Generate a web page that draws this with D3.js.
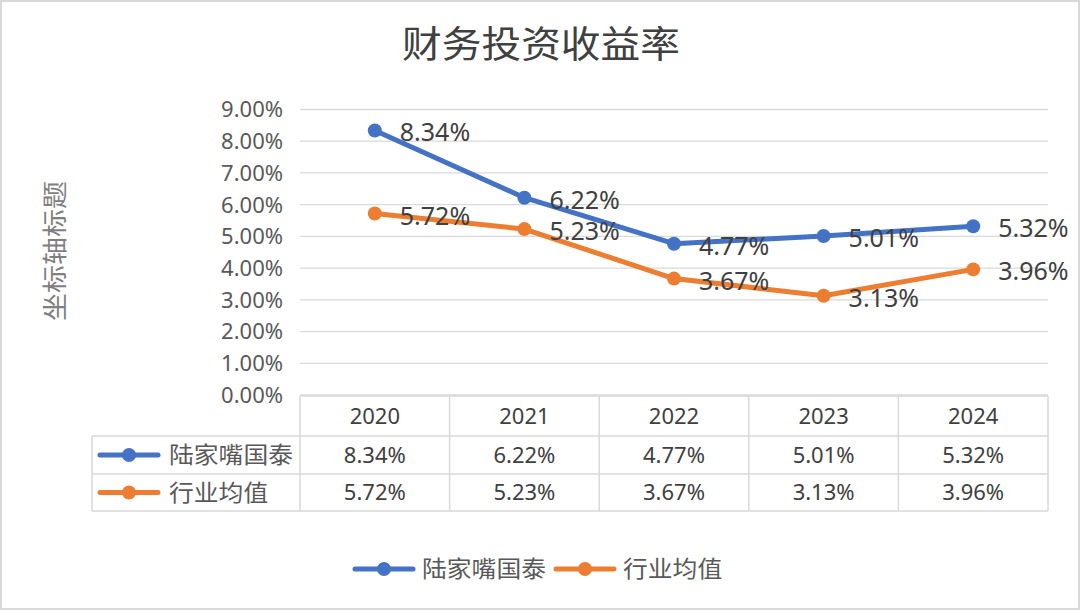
<!DOCTYPE html>
<html>
<head>
<meta charset="utf-8">
<script src="https://cdn.jsdelivr.net/npm/d3@7"></script>
<style>
  body { margin: 0; background: #fff; }
  text { font-family: "Noto Sans", "Noto Sans CJK SC", sans-serif; }
</style>
</head>
<body>
<svg id="container" width="1080" height="611"></svg>
<script>
// chart data
var years = ["2020", "2021", "2022", "2023", "2024"];
var seriesNames = ["陆家嘴国泰", "行业均值"];
var seriesColors = ["#4472C4", "#ED7D31"];
var ljzValues = [8.34, 6.22, 4.77, 5.01, 5.32];
var avgValues = [5.72, 5.23, 3.67, 3.13, 3.96];
var yTicks = [0, 1, 2, 3, 4, 5, 6, 7, 8, 9];

var seriesValues = [ljzValues, avgValues];
var fmt = v => v.toFixed(2) + "%";

const svg = d3.select("#container");
const cjk = '"Noto Sans CJK SC", sans-serif';

// outer frame
svg.append("rect").attr("x", 1).attr("y", 1).attr("width", 1078).attr("height", 608)
    .attr("fill", "#fff").attr("stroke", "#d9d9d9").attr("stroke-width", 2);

// title
svg.append("text")
    .attr("x", 541).attr("y", 58)
    .attr("text-anchor", "middle")
    .style("font-family", cjk).style("font-size", "37px").attr("fill", "#404040")
    .attr("textLength", 278).attr("lengthAdjust", "spacingAndGlyphs")
    .text("财务投资收益率");

// axis title
svg.append("text")
    .attr("transform", "translate(64,251) rotate(-90)")
    .attr("text-anchor", "middle")
    .style("font-family", cjk).style("font-size", "25px").attr("fill", "#7f7f7f")
    .attr("textLength", 140).attr("lengthAdjust", "spacingAndGlyphs")
    .text("坐标轴标题");

const plotLeft = 300, plotRight = 1048, plotTop = 109.5, plotBottom = 395;
const x = d3.scaleBand().domain(years).range([plotLeft, plotRight]);
const y = d3.scaleLinear().domain([0, 9]).range([plotBottom, plotTop]);

// gridlines
svg.append("g").selectAll("line").data(yTicks).join("line")
    .attr("x1", plotLeft).attr("x2", plotRight)
    .attr("y1", d => y(d)).attr("y2", d => y(d))
    .attr("stroke", "#d9d9d9").attr("stroke-width", 1.3);

// y tick labels
svg.append("g").selectAll("text").data(yTicks).join("text")
    .attr("x", 283).attr("y", d => y(d)).attr("dy", "0.36em")
    .attr("text-anchor", "end").style("font-size", "22px").attr("fill", "#595959")
    .text(d => fmt(d));

// data table
const tableLeft = 92, rowY = [396, 436, 474, 511];
const table = svg.append("g").attr("stroke", "#d9d9d9").attr("stroke-width", 1.5).attr("fill", "none");
table.append("line").attr("x1", plotLeft).attr("x2", plotRight).attr("y1", rowY[0]).attr("y2", rowY[0]);
rowY.slice(1).forEach(ry => {
    table.append("line").attr("x1", tableLeft).attr("x2", plotRight).attr("y1", ry).attr("y2", ry);
});
table.append("line").attr("x1", tableLeft).attr("x2", tableLeft).attr("y1", rowY[1]).attr("y2", rowY[3]);
years.forEach(yr => {
    table.append("line").attr("x1", x(yr)).attr("x2", x(yr)).attr("y1", rowY[0]).attr("y2", rowY[3]);
});
table.append("line").attr("x1", plotRight).attr("x2", plotRight).attr("y1", rowY[0]).attr("y2", rowY[3]);

svg.append("g").selectAll("text").data(years).join("text")
    .attr("x", d => x(d) + x.bandwidth() / 2).attr("y", (rowY[0] + rowY[1]) / 2).attr("dy", "0.36em")
    .attr("text-anchor", "middle").style("font-size", "22px").attr("fill", "#404040")
    .text(d => d);

function legendKey(g, cx, cy, color)
{
    g.append("line").attr("x1", cx - 29).attr("x2", cx + 29).attr("y1", cy).attr("y2", cy)
        .attr("stroke", color).attr("stroke-width", 5).attr("stroke-linecap", "round");
    g.append("circle").attr("cx", cx).attr("cy", cy).attr("r", 7).attr("fill", color);
}

seriesValues.forEach((vals, si) => {
    var cy = (rowY[si + 1] + rowY[si + 2]) / 2;
    var g = svg.append("g");
    legendKey(g, 129, cy, seriesColors[si]);
    g.append("text").attr("x", 169).attr("y", cy).attr("dy", "0.36em")
        .style("font-family", cjk).style("font-size", "23px").attr("fill", "#595959")
        .attr("textLength", seriesNames[si].length * 24.8).attr("lengthAdjust", "spacingAndGlyphs")
        .text(seriesNames[si]);
    g.selectAll("text.v").data(vals).join("text").attr("class", "v")
        .attr("x", (d, i) => x(years[i]) + x.bandwidth() / 2).attr("y", cy).attr("dy", "0.36em")
        .attr("text-anchor", "middle").style("font-size", "22px").attr("fill", "#404040")
        .text(d => fmt(d));
});

// lines, markers, labels
const line = d3.line().x((d, i) => x(years[i]) + x.bandwidth() / 2).y(d => y(d));
seriesValues.forEach((vals, si) => {
    var g = svg.append("g");
    g.append("path").datum(vals).attr("d", line).attr("fill", "none")
        .attr("stroke", seriesColors[si]).attr("stroke-width", 5).attr("stroke-linejoin", "round");
    g.selectAll("circle").data(vals).join("circle")
        .attr("cx", (d, i) => x(years[i]) + x.bandwidth() / 2).attr("cy", d => y(d))
        .attr("r", 7).attr("fill", seriesColors[si]);
});
seriesValues.forEach((vals, si) => {
    svg.append("g").selectAll("text").data(vals).join("text")
        .attr("x", (d, i) => x(years[i]) + x.bandwidth() / 2 + 25).attr("y", d => y(d) + 2).attr("dy", "0.36em")
        .style("font-size", "25px").attr("fill", "#404040")
        .text(d => fmt(d));
});

// bottom legend
const legendPos = [{ key: 384, text: 422 }, { key: 585, text: 623 }];
seriesNames.forEach((name, si) => {
    var g = svg.append("g");
    legendKey(g, legendPos[si].key, 569, seriesColors[si]);
    g.append("text").attr("x", legendPos[si].text).attr("y", 569).attr("dy", "0.36em")
        .style("font-family", cjk).style("font-size", "23px").attr("fill", "#595959")
        .attr("textLength", name.length * 24.8).attr("lengthAdjust", "spacingAndGlyphs")
        .text(name);
});
</script>
</body>
</html>
